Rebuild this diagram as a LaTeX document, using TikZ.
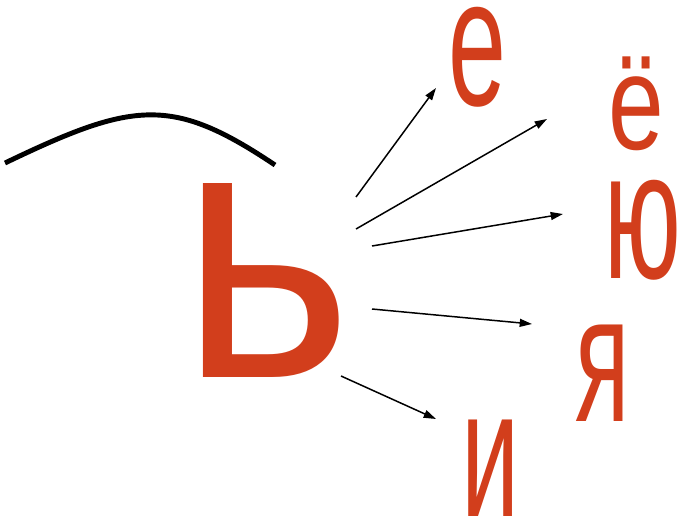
\documentclass[tikz,border=0pt]{standalone}
\usepackage{fontspec}
\setmainfont{Liberation Sans}
\usetikzlibrary{arrows.meta}
\definecolor{letterred}{RGB}{210,62,28}
\newcommand{\squeeze}[2]{\scalebox{#1}[1]{#2}}

\begin{document}
\begin{tikzpicture}[x=0.02cm, y=-0.02cm,
  letter/.style={text=letterred, inner sep=0pt, font=\fontsize{104}{104}\selectfont},
  pointer/.style={line width=0.85pt, -{Triangle[length=7pt, width=4.5pt]}}]
  \useasboundingbox (0,0) rectangle (682,527);

  % Soft sign with the arc above it
  \node[letter, font=\fontsize{209}{209}\selectfont] (softsign) at (267,280) {\squeeze{0.9}{ь}};
  \draw[line width=2.8pt] (5,163) .. controls (134,101) and (172,96) .. (275,165);

  % Vowels
  \node[letter] (ve)  at (477,57)  {\squeeze{0.57}{е}};
  \node[letter, font=\fontsize{77}{77}\selectfont] (vyo) at (636,104) {\squeeze{0.74}{ё}};
  \node[letter] (vyu) at (643,230) {\squeeze{0.56}{ю}};
  \node[letter] (vya) at (603,373) {\squeeze{0.55}{я}};
  \node[letter] (vi)  at (491,468) {\squeeze{0.57}{и}};

  % Arrow ends
  \coordinate (s1) at (356,197); \coordinate (t1) at (436,88);
  \coordinate (s2) at (356,229); \coordinate (t2) at (547,119);
  \coordinate (s3) at (372,246); \coordinate (t3) at (563,214);
  \coordinate (s4) at (372,309); \coordinate (t4) at (532,324);
  \coordinate (s5) at (341,376); \coordinate (t5) at (436,419);

  % Arrows
  \draw[pointer] (s1) -- (t1);
  \draw[pointer] (s2) -- (t2);
  \draw[pointer] (s3) -- (t3);
  \draw[pointer] (s4) -- (t4);
  \draw[pointer] (s5) -- (t5);
\end{tikzpicture}
\end{document}
